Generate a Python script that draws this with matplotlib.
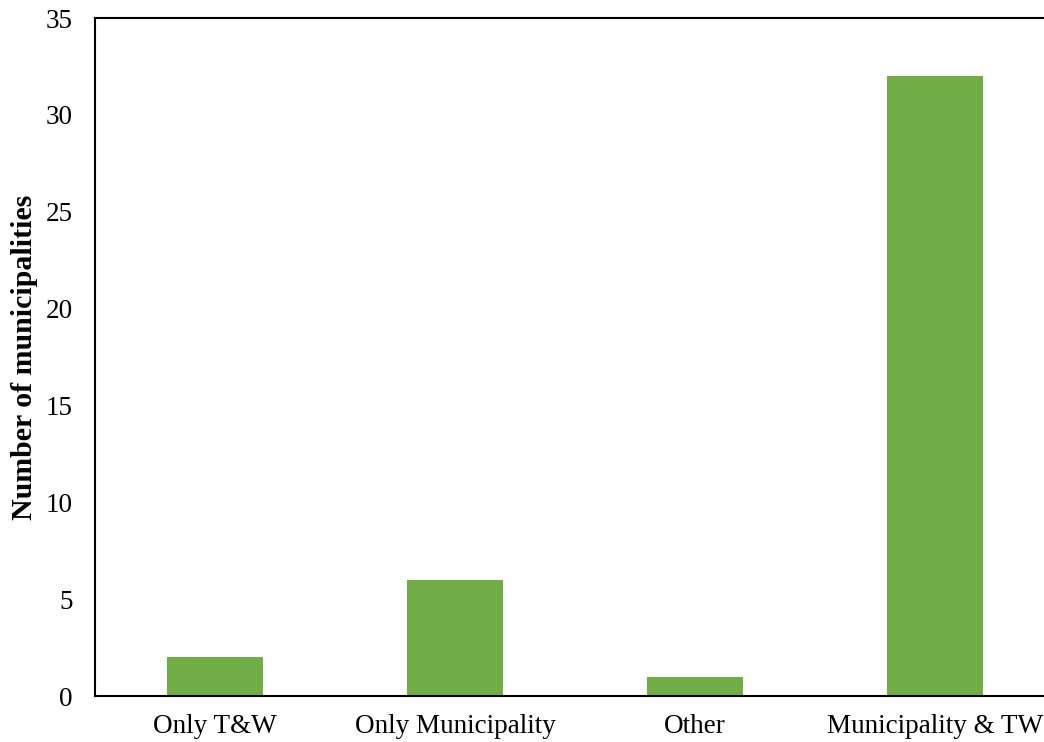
import matplotlib
matplotlib.use("Agg")
import matplotlib.pyplot as plt
import numpy as np

categories = ["Only T&W", "Only Municipality", "Other", "Municipality & TW"]
counts = [2, 6, 1, 32]
y_ticks = [0, 5, 10, 15, 20, 25, 30, 35]

plt.rcParams["font.family"] = ["Liberation Serif", "DejaVu Serif"]

fig = plt.figure(figsize=(10.44, 7.42), dpi=100)
ax = fig.add_axes([95 / 1044, 46 / 742, 960 / 1044, 678 / 742])

x = np.arange(len(categories))
ax.bar(x, counts, width=0.4, color="#70AD47")

ax.set_xlim(-0.5, len(categories) - 0.5)
ax.set_ylim(0, 35)
ax.set_yticks(y_ticks)
ax.set_xticks(x)
ax.set_xticklabels(categories)
ax.tick_params(axis="both", length=0, labelsize=19.5, colors="black")
ax.tick_params(axis="y", pad=16)
ax.tick_params(axis="x", pad=13)

for side in ("left", "bottom", "top"):
    ax.spines[side].set_linewidth(1.5)
    ax.spines[side].set_color("black")
ax.spines["right"].set_visible(False)

fig.text(25 / 1044, 1 - 357 / 742, "Number of municipalities", rotation=90,
         ha="center", va="center", fontsize=21.5, fontweight="bold")

fig.savefig("out.png", dpi=100)
